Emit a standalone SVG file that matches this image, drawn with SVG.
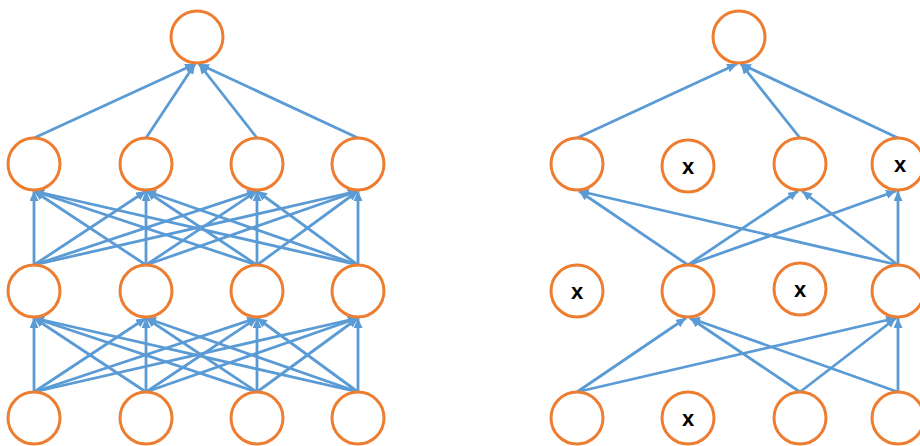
<svg xmlns="http://www.w3.org/2000/svg" width="920" height="446" viewBox="0 0 920 446">
<style>
.n{fill:#fff;stroke:#ED7D31;stroke-width:3}
.e line{stroke:#5B9BD5;stroke-width:2.8;marker-end:url(#ah)}
.t{font-family:"Liberation Sans",Arial,sans-serif;font-weight:bold;font-size:22px;text-anchor:middle;fill:#000}
</style>
<defs>
<marker id="ah" markerUnits="userSpaceOnUse" markerWidth="12" markerHeight="10" refX="10" refY="4.5" orient="auto">
<path d="M0,0 L10,4.5 L0,9 Z" fill="#5B9BD5"/>
</marker>
</defs>
<rect width="920" height="446" fill="#fff"/>
<g id="connectors" class="e">
<line x1="34" y1="138" x2="195" y2="64"/>
<line x1="146" y1="138" x2="195" y2="64"/>
<line x1="257" y1="138" x2="199" y2="64"/>
<line x1="358" y1="138" x2="199" y2="64"/>
<line x1="34" y1="265" x2="34" y2="191"/>
<line x1="34" y1="265" x2="146" y2="191"/>
<line x1="34" y1="265" x2="257" y2="191"/>
<line x1="34" y1="265" x2="358" y2="191"/>
<line x1="146" y1="265" x2="34" y2="191"/>
<line x1="146" y1="265" x2="146" y2="191"/>
<line x1="146" y1="265" x2="257" y2="191"/>
<line x1="146" y1="265" x2="358" y2="191"/>
<line x1="257" y1="265" x2="34" y2="191"/>
<line x1="257" y1="265" x2="146" y2="191"/>
<line x1="257" y1="265" x2="257" y2="191"/>
<line x1="257" y1="265" x2="358" y2="191"/>
<line x1="358" y1="265" x2="34" y2="191"/>
<line x1="358" y1="265" x2="146" y2="191"/>
<line x1="358" y1="265" x2="257" y2="191"/>
<line x1="358" y1="265" x2="358" y2="191"/>
<line x1="34" y1="392" x2="34" y2="318"/>
<line x1="34" y1="392" x2="146" y2="318"/>
<line x1="34" y1="392" x2="257" y2="318"/>
<line x1="34" y1="392" x2="358" y2="318"/>
<line x1="146" y1="392" x2="34" y2="318"/>
<line x1="146" y1="392" x2="146" y2="318"/>
<line x1="146" y1="392" x2="257" y2="318"/>
<line x1="146" y1="392" x2="358" y2="318"/>
<line x1="257" y1="392" x2="34" y2="318"/>
<line x1="257" y1="392" x2="146" y2="318"/>
<line x1="257" y1="392" x2="257" y2="318"/>
<line x1="257" y1="392" x2="358" y2="318"/>
<line x1="358" y1="392" x2="34" y2="318"/>
<line x1="358" y1="392" x2="146" y2="318"/>
<line x1="358" y1="392" x2="257" y2="318"/>
<line x1="358" y1="392" x2="358" y2="318"/>
<line x1="577" y1="138" x2="737" y2="64"/>
<line x1="800" y1="138" x2="741" y2="64"/>
<line x1="898" y1="138" x2="741" y2="64"/>
<line x1="688" y1="265" x2="579" y2="191"/>
<line x1="898" y1="265" x2="579" y2="191"/>
<line x1="688" y1="265" x2="798" y2="191"/>
<line x1="898" y1="265" x2="802" y2="191"/>
<line x1="688" y1="265" x2="896" y2="191"/>
<line x1="898" y1="265" x2="898" y2="191"/>
<line x1="577" y1="392" x2="686" y2="318"/>
<line x1="800" y1="392" x2="690" y2="318"/>
<line x1="898" y1="392" x2="690" y2="318"/>
<line x1="577" y1="392" x2="896" y2="318"/>
<line x1="800" y1="392" x2="896" y2="318"/>
<line x1="898" y1="392" x2="898" y2="318"/>
</g>
<g id="L-top"><circle class="n" cx="197" cy="37" r="26"/></g>
<g id="L3-1"><circle class="n" cx="34" cy="164" r="26"/></g>
<g id="L3-2"><circle class="n" cx="146" cy="164" r="26"/></g>
<g id="L3-3"><circle class="n" cx="257" cy="164" r="26"/></g>
<g id="L3-4"><circle class="n" cx="358" cy="164" r="26"/></g>
<g id="L2-1"><circle class="n" cx="34" cy="291" r="26"/></g>
<g id="L2-2"><circle class="n" cx="146" cy="291" r="26"/></g>
<g id="L2-3"><circle class="n" cx="257" cy="291" r="26"/></g>
<g id="L2-4"><circle class="n" cx="358" cy="291" r="26"/></g>
<g id="L1-1"><circle class="n" cx="34" cy="418" r="26"/></g>
<g id="L1-2"><circle class="n" cx="146" cy="418" r="26"/></g>
<g id="L1-3"><circle class="n" cx="257" cy="418" r="26"/></g>
<g id="L1-4"><circle class="n" cx="358" cy="418" r="26"/></g>
<g id="R-top"><circle class="n" cx="739" cy="37" r="26"/></g>
<g id="R3-1"><circle class="n" cx="577" cy="164" r="26"/></g>
<g id="R3-2"><circle class="n" cx="688" cy="166" r="26"/><text class="t" x="688" y="174">x</text></g>
<g id="R3-3"><circle class="n" cx="800" cy="164" r="26"/></g>
<g id="R3-4"><circle class="n" cx="898" cy="164" r="26"/><text class="t" x="900" y="172">x</text></g>
<g id="R2-1"><circle class="n" cx="577" cy="291" r="26"/><text class="t" x="577" y="299">x</text></g>
<g id="R2-2"><circle class="n" cx="688" cy="291" r="26"/></g>
<g id="R2-3"><circle class="n" cx="800" cy="289" r="26"/><text class="t" x="800" y="297">x</text></g>
<g id="R2-4"><circle class="n" cx="898" cy="291" r="26"/></g>
<g id="R1-1"><circle class="n" cx="577" cy="418" r="26"/></g>
<g id="R1-2"><circle class="n" cx="688" cy="418" r="26"/><text class="t" x="688" y="426">x</text></g>
<g id="R1-3"><circle class="n" cx="800" cy="418" r="26"/></g>
<g id="R1-4"><circle class="n" cx="898" cy="418" r="26"/></g>
</svg>
